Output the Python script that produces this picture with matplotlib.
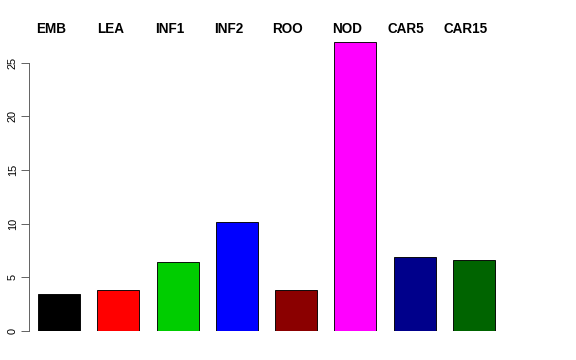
import matplotlib
matplotlib.use("Agg")
import matplotlib.pyplot as plt

# tissue labels and values
labels = ["EMB", "LEA", "INF1", "INF2", "ROO", "NOD", "CAR5", "CAR15"]
values = [3.42, 3.82, 6.44, 10.14, 3.82, 26.9, 6.93, 6.65]
colors = ["#000000", "#FF0000", "#00CD00", "#0000FF", "#8B0000",
          "#FF00FF", "#00008B", "#006400"]
yticks = [0, 5, 10, 15, 20, 25]

plt.rcParams["font.family"] = ["Liberation Sans", "DejaVu Sans"]

W, H = 576, 360
fig = plt.figure(figsize=(8, 5), dpi=72)

# axes placed in pixel units: x 29..530, y 331 (value 0) .. 35
left, right, bottom, top = 29.3, 530, 331, 35.6
ax = fig.add_axes([left / W, 1 - bottom / H, (right - left) / W, (bottom - top) / H])

x = list(range(len(labels)))
ax.bar(x, values, width=0.71, color=colors, edgecolor="black", linewidth=0.9)

ax.set_xlim(-0.505, (right - 59.2) / 59.24)
ax.set_ylim(0, (bottom - top) / 10.74)

for spine in ["top", "right", "bottom"]:
    ax.spines[spine].set_visible(False)
ax.spines["left"].set_bounds(0, 25)
ax.spines["left"].set_color("#555555")
ax.spines["left"].set_linewidth(0.9)

ax.set_xticks([])
ax.set_yticks(yticks)
ax.set_yticklabels([str(t) for t in yticks], rotation=90, va="center", fontsize=11)
ax.tick_params(axis="y", length=8, width=0.9, color="#555555", pad=3.5)

# bold tissue names along the top
label_y = (bottom - 29.3) / 10.74
for xi, name in zip(x, labels):
    ax.text(xi - 0.14, label_y, name, ha="center", va="center",
            fontsize=13.5, fontweight="bold", clip_on=False)

fig.savefig("out.png", dpi=72)
